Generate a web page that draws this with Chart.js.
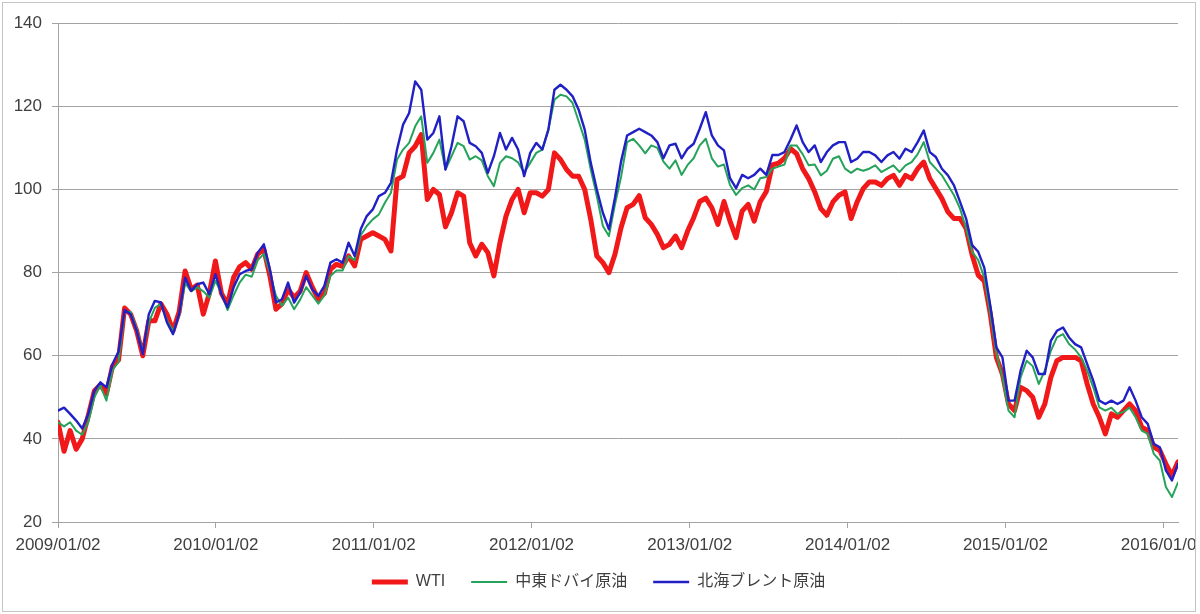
<!DOCTYPE html>
<html><head><meta charset="utf-8">
<script src="https://cdn.jsdelivr.net/npm/chart.js@4.4.1/dist/chart.umd.min.js"></script>
<style>
html,body{margin:0;padding:0;background:#fff;}
#frame{position:absolute;left:2px;top:2px;width:1192px;height:608px;border:1px solid #c4c4c4;overflow:hidden;background:#fff;}
canvas{display:block;}
</style></head><body>
<div id="frame"><canvas id="c" width="1240" height="612"></canvas></div>
<script>
// ---- data (biweekly readings, starting 2009/01/02) ----
const startDate = '2009/01/02';
const stepDays = 14;
const axisEndDays = 2590;
const tickLabels = ['2009/01/02','2010/01/02','2011/01/02','2012/01/02','2013/01/02','2014/01/02','2015/01/02','2016/01/02'];
const yMin = 20, yMax = 140, yStep = 20;
const seriesNames = ['WTI','中東ドバイ原油','北海ブレント原油'];

const wti = [
44,37,42,37.5,40,45.6,51.5,53,50.8,57.5,
59,71.5,70,66,60,68.4,68.4,72.5,70,66,
70.5,80.4,76,77,70,75,82.8,75,72.4,78.8,
81.4,82.4,80.8,84.5,85.6,79.2,71.2,72.5,76,74,
75.5,80,76.5,73.6,75,80.8,82,81.5,84,81.6,
88,88.8,89.6,88.8,88,85.2,102.4,103.2,108.8,110.4,
113.2,97.6,100,98.8,91,94.4,99.2,98.4,87.2,84,
86.8,84.8,79.2,87.2,93.6,97.6,100,94.4,99.2,99.2,
98.4,100,108.8,107.2,104.8,103.2,103.2,100,92.8,84,
82.4,80,84.4,90.8,95.6,96.4,98.5,93.2,91.6,89.2,
86,86.8,88.8,86,90,93.2,97.1,97.9,95.6,91.6,
97.1,92.4,88.4,94.8,96.4,92.4,97.1,99.5,105.9,106.3,
107.5,109.8,108.6,105,102.6,99.4,95.4,93.8,97,98.6,
99.4,93,97,100.2,101.8,101.8,101,102.6,103.4,101,
103.4,102.6,105,106.6,102.6,100.2,97.8,94.6,93,93,
90.6,84.2,79.4,78,70,59.6,55.6,48.4,46.8,52.4,
51.6,50,45.2,48.4,54.8,58.8,59.6,59.6,59.6,58.8,
53.2,48.4,45.2,41.2,46,45.2,46.8,48.4,46.8,42.8,
42,38,37.2,34,31.2,34.5
];
const dubai = [
44,43,44,42,41,44,50,52.8,49.2,56.5,
58.5,70.5,70.5,66.5,61,68,71.5,72.5,68.5,66,
69.5,77.5,75.5,76.5,75.5,74,78,75,71,74.5,
77.6,79.5,79,83,84.5,80,74.4,72,74,71.2,
73.5,76.5,74.5,72.5,74.5,79.2,80.5,80.5,84,83,
89,91.2,92.8,94,96.8,99.2,107.2,109.6,111.2,115.2,
117.6,106.4,108.8,112,104.8,108,111.2,110.4,107.2,108,
107,103.2,100.8,106.4,108,107.5,106.5,104,106.4,108.8,
109.6,114.4,121.6,122.8,122.4,120.8,116.4,112,104.8,98.4,
91.2,88.8,96.4,103,111.4,112.2,110.6,108.7,110.6,110,
106.7,105,107,103.5,105.9,107.5,110.6,112.2,107.5,105.5,
106,101.1,98.7,100.3,101,100,102.7,103,105,105.5,
106,110.6,110.6,108.5,105.8,106,103.4,104.5,107.4,108,
105,104,105,104.5,105,105.8,104.2,105,105.8,104.2,
105.8,106.6,108.5,111.4,106.6,105,103.4,101,98.6,95.4,
90.6,85,83,78.8,70,60.4,54.8,46.8,45.2,54.8,
58.8,57.5,53.2,56.4,61.2,64.4,65.2,62.8,61.5,59.6,
56.4,52.4,47.6,46.8,47.5,46,46.5,47.5,45.2,42,
41.2,36.4,34.8,28.4,26,29.5
];
const brent = [
46.8,47.5,46,44.4,42.5,46,51.6,53.6,52.4,58,
61,71,70,66,60.4,70,73.2,72.8,68,65.2,
70,78.8,75.6,77.2,77.6,74.8,79.6,74.8,71.6,76.4,
79.6,80.4,80.8,84.8,86.8,80.8,72.8,73.6,77.6,72.8,
75.2,79.2,76,74.4,76.8,82.4,83.2,82.4,87.2,84,
90.4,93.6,95.2,98.4,99.2,101.6,109.6,115.6,118.4,126,
124,112,113.6,117.6,104.8,110.4,117.6,116.4,111.2,110.4,
108.8,104,108,113.6,109.6,112.4,109.6,103.2,108.8,111.2,
109.6,114.4,124,125.2,124,122.4,119.2,114.4,106.4,100,
94.4,90.4,98,106.7,113,113.8,114.6,113.8,113,111.4,
107.5,110.6,111,107.5,109.8,111,114.6,118.6,113,110.6,
109.4,102.7,100.3,103.5,102.7,103.5,105,103.5,108.3,108.3,
109,112,115.4,111.4,109,110.6,106.6,109,110.6,111.4,
111.4,106.6,107.4,109,109,108.2,106.6,108.2,109,107.4,
109.8,109,111.4,114.2,109,107.8,105,103.4,101,97,
93,86.6,85,81.2,72,62,59.6,49.2,49.2,56.4,
61.2,59.6,55.6,55.6,63.6,66,66.8,64.4,62.8,62,
58,54,49.2,48.4,49.2,48.4,49.2,52.4,49.2,45.2,
43.6,38.8,38,32.4,30,34
];

// ---- helpers ----
function dayOffset(s){
  const [y,m,d] = s.split('/').map(Number);
  const [y0,m0,d0] = startDate.split('/').map(Number);
  return (Date.UTC(y,m-1,d) - Date.UTC(y0,m0-1,d0)) / 86400000;
}
const tickDays = tickLabels.map(dayOffset);
const toPoints = arr => arr.map((v,i) => ({x: i*stepDays, y: v}));

const FONT = "'Liberation Sans', 'Noto Sans CJK JP', sans-serif";
const GRID = '#a3a3a3';
const TEXT = '#3f3f3f';

new Chart(document.getElementById('c'), {
  type: 'line',
  data: {
    datasets: [
      {label: seriesNames[0], data: toPoints(wti), borderColor: '#f01818', borderWidth: 5, order: 2},
      {label: seriesNames[1], data: toPoints(dubai), borderColor: '#26a35a', borderWidth: 2, order: 1},
      {label: seriesNames[2], data: toPoints(brent), borderColor: '#2020c4', borderWidth: 2.4, order: 0}
    ]
  },
  options: {
    responsive: false,
    devicePixelRatio: 1,
    animation: false,
    events: [],
    datasets: { line: { pointRadius: 0, tension: 0, fill: false, borderCapStyle: 'round', borderJoinStyle: 'round' } },
    layout: { padding: { top: 18, left: 0, right: 49, bottom: 15 } },
    scales: {
      x: {
        type: 'linear', min: 0, max: axisEndDays,
        afterBuildTicks: s => { s.ticks = tickDays.map(v => ({value: v})); },
        afterFit: s => { s.height = 26; s._computeLabelArea = () => undefined; },
        ticks: { autoSkip: false, maxRotation: 0, padding: 7, color: TEXT, font: {family: FONT, size: 17},
                 callback: (v, i) => tickLabels[i] },
        grid: { drawOnChartArea: false, drawTicks: true, tickLength: 6, color: GRID },
        border: { display: true, color: GRID }
      },
      y: {
        min: yMin, max: yMax,
        afterFit: s => { s.width = 55; },
        ticks: { stepSize: yStep, padding: 10, color: TEXT, font: {family: FONT, size: 17} },
        grid: { color: GRID, tickLength: 6 },
        border: { display: true, color: GRID }
      },
      y2: {
        position: 'right', display: true,
        afterFit: s => { s.width = 16; },
        ticks: { display: false },
        grid: { display: false, drawTicks: false },
        border: { display: false }
      }
    },
    plugins: {
      tooltip: { enabled: false },
      title: { display: false },
      legend: {
        position: 'bottom',
        labels: {
          usePointStyle: true, pointStyle: 'line', pointStyleWidth: 36, boxHeight: 16,
          padding: 26, color: TEXT, font: {family: FONT, size: 16},
          sort: (a, b) => a.datasetIndex - b.datasetIndex
        }
      }
    }
  }
});
</script>
</body></html>
